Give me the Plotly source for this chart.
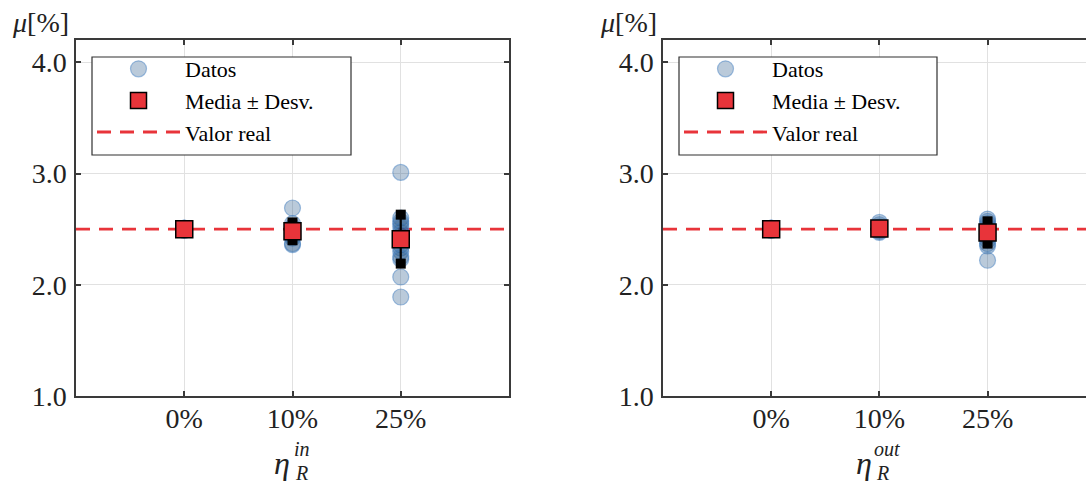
import plotly.graph_objects as go

W, H = 1086, 489

# categories on the x axis (placed at 1, 2, 3)
CATEGORIES = ["0%", "10%", "25%"]
CAT_POS = [1, 2, 3]
Y_TICKS = [1.0, 2.0, 3.0, 4.0]
Y_TICK_TEXT = ["1.0", "2.0", "3.0", "4.0"]
TRUE_VALUE = 2.5

# individual runs, eta_R^in
DATA_IN_0 = [2.50, 2.50, 2.49, 2.51, 2.50, 2.50, 2.49, 2.50, 2.51, 2.50]
DATA_IN_10 = [2.69, 2.55, 2.52, 2.50, 2.48, 2.46, 2.44, 2.42, 2.37, 2.36]
DATA_IN_25 = [3.01, 2.60, 2.57, 2.55, 2.52, 2.48, 2.45, 2.40, 2.36, 2.33,
              2.30, 2.25, 2.23, 2.07, 1.89]
MEAN_IN = [2.50, 2.48, 2.41]
STD_IN = [0.01, 0.08, 0.22]

# individual runs, eta_R^out
DATA_OUT_0 = [2.50, 2.50, 2.49, 2.51, 2.50, 2.50, 2.49, 2.50, 2.51, 2.50]
DATA_OUT_10 = [2.56, 2.54, 2.52, 2.51, 2.50, 2.49, 2.48, 2.47]
DATA_OUT_25 = [2.59, 2.57, 2.55, 2.52, 2.50, 2.48, 2.46, 2.43, 2.40, 2.37,
               2.35, 2.22]
MEAN_OUT = [2.50, 2.505, 2.47]
STD_OUT = [0.01, 0.02, 0.10]

FONT = "'Liberation Serif', 'DejaVu Serif', serif"
AX_COLOR = "#3a3a3a"
GRID_COLOR = "#e1e1e1"
DOT_FILL = "rgba(40,90,140,0.32)"
DOT_LINE = "rgba(70,130,195,0.50)"
RED = "#e8343a"
TXT = "#222222"


def px_x(x):
    return x / W


def px_y(y):
    return 1 - y / H


fig = go.Figure()


def add_panel(groups, means, stds, xa, ya, legend_name):
    # reference line
    fig.add_trace(go.Scatter(
        x=[0, 4], y=[TRUE_VALUE, TRUE_VALUE], mode="lines",
        line=dict(color=RED, width=2.8, dash="14px,9px"),
        name="Valor real", legend=legend_name, legendrank=3,
        xaxis=xa, yaxis=ya, hoverinfo="skip"))
    # individual data points
    xs, ys = [], []
    for pos, vals in zip(CAT_POS, groups):
        xs += [pos] * len(vals)
        ys += vals
    fig.add_trace(go.Scatter(
        x=xs, y=ys, mode="markers",
        marker=dict(symbol="circle", size=16, color=DOT_FILL,
                    line=dict(color=DOT_LINE, width=1.2)),
        name="Datos", legend=legend_name, legendrank=1,
        xaxis=xa, yaxis=ya))
    # mean +/- std bars with square caps
    ex, ey = [], []
    for pos, m, s in zip(CAT_POS, means, stds):
        ex += [pos, pos, None]
        ey += [m - s, m + s, None]
    fig.add_trace(go.Scatter(
        x=ex, y=ey, mode="lines+markers",
        line=dict(color="black", width=2.2),
        marker=dict(symbol="square", size=10, color="black"),
        showlegend=False, xaxis=xa, yaxis=ya, hoverinfo="skip"))
    # mean markers
    fig.add_trace(go.Scatter(
        x=CAT_POS, y=means, mode="markers",
        marker=dict(symbol="square", size=17, color=RED,
                    line=dict(color="black", width=1.5)),
        name="Media ± Desv.", legend=legend_name, legendrank=2,
        xaxis=xa, yaxis=ya))


add_panel([DATA_IN_0, DATA_IN_10, DATA_IN_25], MEAN_IN, STD_IN, "x", "y", "legend")
add_panel([DATA_OUT_0, DATA_OUT_10, DATA_OUT_25], MEAN_OUT, STD_OUT, "x2", "y2", "legend2")

y_dom = [px_y(396), px_y(40)]

xaxis_common = dict(
    tickvals=CAT_POS, ticktext=CATEGORIES, showgrid=True, gridcolor=GRID_COLOR,
    gridwidth=1, zeroline=False, showline=True, linecolor=AX_COLOR, linewidth=1.5,
    ticks="inside", ticklen=5, tickwidth=1.5, tickcolor=AX_COLOR,
    tickfont=dict(family=FONT, size=28, color=TXT), ticklabelstandoff=-3,
    automargin=False, mirror="ticks")
yaxis_common = dict(
    range=[1.0, 4.2], tickvals=Y_TICKS, ticktext=Y_TICK_TEXT, showgrid=True,
    gridcolor=GRID_COLOR, gridwidth=1, zeroline=False, showline=True,
    linecolor=AX_COLOR, linewidth=1.5, ticks="inside", ticklen=5, tickwidth=1.5,
    tickcolor=AX_COLOR, tickfont=dict(family=FONT, size=28, color=TXT),
    ticklabelstandoff=2, automargin=False, domain=y_dom)

legend_common = dict(
    xanchor="left", yanchor="top", bgcolor="rgba(0,0,0,0)", borderwidth=0,
    font=dict(family=FONT, size=22, color="black"),
    itemwidth=83, tracegroupgap=0, traceorder="normal")

fig.update_layout(
    width=W, height=H, margin=dict(l=0, r=0, t=0, b=0),
    font=dict(family=FONT, color=TXT),
    paper_bgcolor="white", plot_bgcolor="white", showlegend=True,
    xaxis=dict(xaxis_common, range=[0, 4], domain=[px_x(76), px_x(509)]),
    yaxis=dict(yaxis_common, mirror="ticks"),
    xaxis2=dict(xaxis_common, range=[0, 3.91], domain=[px_x(663), 1.0], anchor="y2"),
    yaxis2=dict(yaxis_common, mirror=False, anchor="x2"),
    legend=dict(legend_common, x=px_x(92), y=px_y(48)),
    legend2=dict(legend_common, x=px_x(679), y=px_y(48)),
)

# legend frames
for x0, x1 in ((92, 351), (679, 937)):
    fig.add_shape(type="rect", xref="paper", yref="paper",
                  x0=px_x(x0), x1=px_x(x1), y0=px_y(155), y1=px_y(57),
                  fillcolor="white", line=dict(color="#303030", width=1.2),
                  layer="above")

# axis labels
ann = []
for lx in (40, 628):
    ann.append(dict(text="<i>μ</i>[%]", x=px_x(lx), y=px_y(22)))
ann.append(dict(text="<i>η</i>", x=px_x(282), y=px_y(463), size=32))
ann.append(dict(text="<i>in</i>", x=px_x(302), y=px_y(449), size=20))
ann.append(dict(text="<i>R</i>", x=px_x(301), y=px_y(473), size=20))
ann.append(dict(text="<i>η</i>", x=px_x(864), y=px_y(463), size=32))
ann.append(dict(text="<i>out</i>", x=px_x(887), y=px_y(449), size=20))
ann.append(dict(text="<i>R</i>", x=px_x(882), y=px_y(473), size=20))

for a in ann:
    fig.add_annotation(
        text=a["text"], x=a["x"], y=a["y"], xref="paper", yref="paper",
        xanchor="center", yanchor="middle", showarrow=False,
        font=dict(family=FONT, size=a.get("size", 28), color=TXT))

fig.write_html("out.html")
